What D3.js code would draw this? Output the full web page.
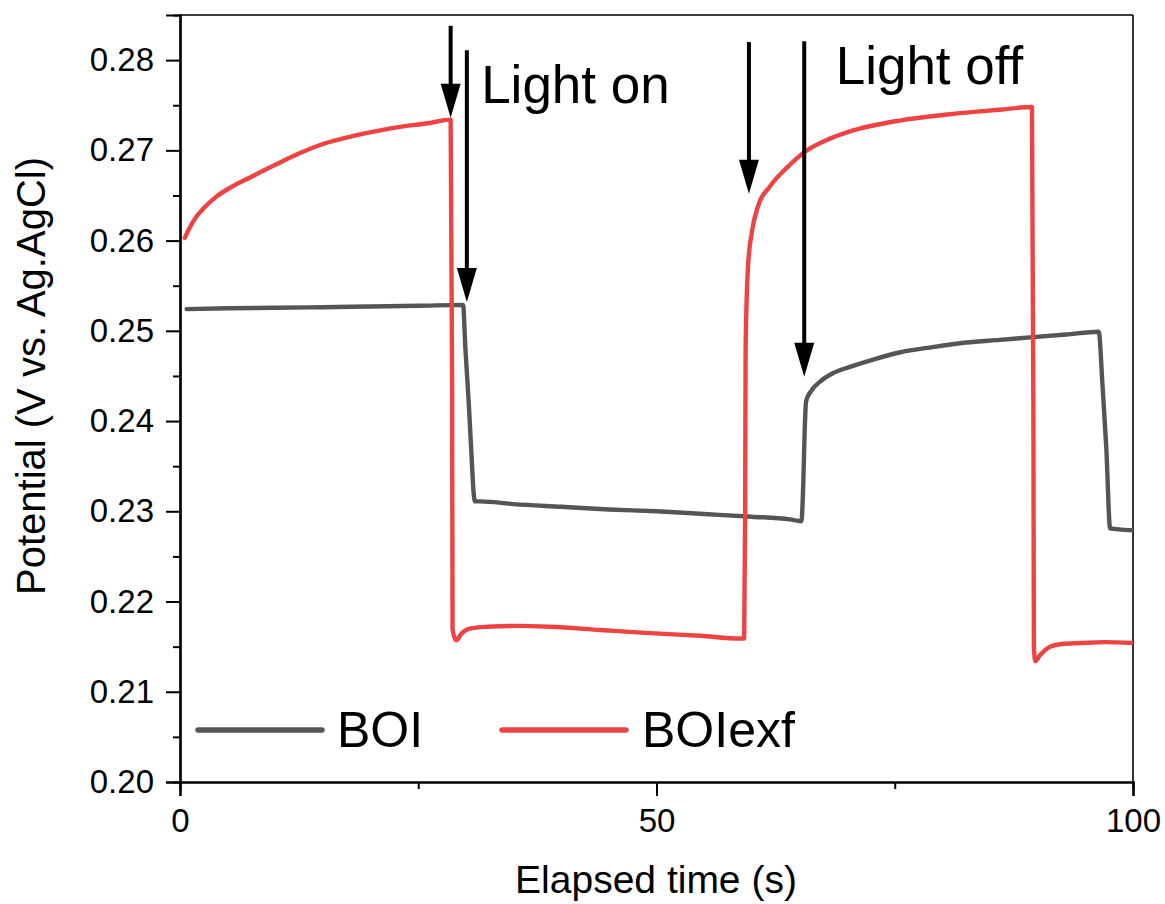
<!DOCTYPE html>
<html>
<head>
<meta charset="utf-8">
<script src="https://cdn.jsdelivr.net/npm/d3@7"></script>
<style>
  body { margin: 0; background: #fff; }
  svg { display: block; font-family: "Liberation Sans", Arial, sans-serif; }
</style>
</head>
<body>
<svg id="chart" width="1165" height="904"></svg>
<script>
// BOI potential trace (time in s, potential in V)
var boiTime = [0.7, 5, 10, 15, 20, 25, 29.7, 29.95, 30.3, 30.6, 30.8, 30.95, 31.5, 35, 40, 45, 50, 55, 60, 64, 65.2,
  65.4, 65.55, 65.7, 66.2, 67.2, 68.5, 70.3, 73, 75.5, 79, 82.5, 86, 89.5, 93, 96.4, 96.8, 97.2, 97.6, 98.5, 100];
var boiPotential = [0.2524, 0.2525, 0.25256, 0.25262, 0.2527, 0.25278, 0.25288, 0.2480, 0.2420, 0.2360, 0.2322, 0.2311, 0.2311,
  0.2308, 0.2305, 0.2302, 0.2300, 0.2297, 0.2294, 0.2291, 0.2289,
  0.2330, 0.2390, 0.2422, 0.2433, 0.2444, 0.2453, 0.2460, 0.2469, 0.2476, 0.2482, 0.2487, 0.2490, 0.2493, 0.2496, 0.2499,
  0.2440, 0.2370, 0.2281, 0.2280, 0.2279];

// BOIexf potential trace
var boiexfTime = [0.5, 1.0, 1.75, 2.5, 3.85, 5.5, 7.35, 10, 12.6, 15, 17.8, 20.5, 23.1, 26, 28.4,
  28.55, 28.6, 28.8, 29.0, 29.5, 30.4, 32.2, 35.3, 38.8, 44.1, 49.3, 54.6, 58.8, 59.2,
  59.3, 59.35, 59.6, 60.0, 60.65, 61.9, 63.8, 65.5, 68.2, 70.3, 75.5, 80.8, 86, 89.4,
  89.55, 89.6, 89.75, 90.2, 91.3, 92.5, 94.5, 97, 100];
var boiexfPotential = [0.2603, 0.2614, 0.2627, 0.2636, 0.2649, 0.2660, 0.2670, 0.2684, 0.2697, 0.2707, 0.2715, 0.2721, 0.2726, 0.2730, 0.2734,
  0.2450, 0.2170, 0.2160, 0.2157, 0.2164, 0.2170, 0.2172, 0.2173, 0.2172, 0.21685, 0.2165, 0.2162, 0.2159, 0.2159,
  0.2300, 0.2479, 0.2571, 0.2609, 0.2638, 0.2660, 0.2682, 0.2698, 0.2713, 0.2721, 0.2733, 0.2740, 0.2745, 0.2748,
  0.2400, 0.2150, 0.2134, 0.2140, 0.2150, 0.2153, 0.2154, 0.2155, 0.2154];

var seriesNames = ["BOI", "BOIexf"];
var seriesColors = ["#555555", "#ef4343"];

var xTicks = [0, 50, 100];
var xMinorTicks = [25, 75];
var yTicks = [0.20, 0.21, 0.22, 0.23, 0.24, 0.25, 0.26, 0.27, 0.28];
var yMinorTicks = [0.205, 0.215, 0.225, 0.235, 0.245, 0.255, 0.265, 0.275];

// annotation arrows: time, start potential, tip potential
var arrowTime = [28.4, 30.1, 59.7, 65.5];
var arrowFrom = [0.2838, 0.2811, 0.2820, 0.2821];
var arrowTo = [0.2736, 0.2532, 0.2652, 0.2449];
var noteText = ["Light on", "Light off"];
var noteTime = [31.6, 68.8];
var notePotential = [0.2752, 0.2774];

var svg = d3.select("#chart");
var plotLeft = 180, plotRight = 1133, plotTop = 15, plotBottom = 782;

var x = d3.scaleLinear().domain([0, 100]).range([plotLeft, plotRight]);
var y = d3.scaleLinear().domain([0.20, 0.285]).range([plotBottom, plotTop]);

svg.append("rect").attr("width", 1165).attr("height", 904).attr("fill", "#fff");

// frame top / right
svg.append("line").attr("x1", plotLeft).attr("x2", plotRight).attr("y1", plotTop).attr("y2", plotTop)
  .attr("stroke", "#000").attr("stroke-width", 1.6);
svg.append("line").attr("x1", plotRight).attr("x2", plotRight).attr("y1", plotTop).attr("y2", plotBottom)
  .attr("stroke", "#000").attr("stroke-width", 1.6);

var xAxis = svg.append("g").attr("transform", "translate(0," + plotBottom + ")")
  .call(d3.axisBottom(x).tickValues(xTicks).tickSize(14).tickPadding(13).tickFormat(d3.format("d")));
var xMinor = svg.append("g").attr("transform", "translate(0," + plotBottom + ")")
  .call(d3.axisBottom(x).tickValues(xMinorTicks).tickSize(7).tickFormat(""));
var yAxis = svg.append("g").attr("transform", "translate(" + plotLeft + ",0)")
  .call(d3.axisLeft(y).tickValues(yTicks).tickSize(14).tickPadding(12).tickFormat(d3.format(".2f")));
var yMinor = svg.append("g").attr("transform", "translate(" + plotLeft + ",0)")
  .call(d3.axisLeft(y).tickValues(yMinorTicks).tickSize(7).tickFormat(""));

[xAxis, xMinor, yAxis, yMinor].forEach(function (g) {
  g.attr("font-size", 33).attr("font-family", "'Liberation Sans', Arial, sans-serif");
  g.select(".domain").attr("stroke", "#000").attr("stroke-width", 2.2);
  g.selectAll(".tick line").attr("stroke", "#000").attr("stroke-width", 2);
  g.selectAll(".tick text").attr("fill", "#000");
});

// axis titles
svg.append("text").attr("x", 656).attr("y", 893).attr("text-anchor", "middle")
  .attr("font-size", 39).text("Elapsed time (s)");
svg.append("text").attr("transform", "translate(45,376) rotate(-90)").attr("text-anchor", "middle")
  .attr("font-size", 40).text("Potential (V vs. Ag.AgCl)");

// traces
var line = d3.line().curve(d3.curveMonotoneX)
  .x(function (d) { return x(d[0]); }).y(function (d) { return y(d[1]); });
var traces = [d3.zip(boiTime, boiPotential), d3.zip(boiexfTime, boiexfPotential)];
svg.append("defs").append("clipPath").attr("id", "plotClip")
  .append("rect").attr("x", plotLeft).attr("y", plotTop)
  .attr("width", plotRight - plotLeft).attr("height", plotBottom - plotTop);
svg.append("g").attr("clip-path", "url(#plotClip)").selectAll("path").data(traces).enter().append("path")
  .attr("d", line)
  .attr("fill", "none")
  .attr("stroke", function (d, i) { return seriesColors[i]; })
  .attr("stroke-width", 4.4)
  .attr("stroke-linejoin", "round")
  .attr("stroke-linecap", "round");

// arrows
var arrows = svg.append("g");
arrowTime.forEach(function (t, i) {
  var ax = x(t), y0 = y(arrowFrom[i]), y1 = y(arrowTo[i]);
  arrows.append("line").attr("x1", ax).attr("x2", ax).attr("y1", y0).attr("y2", y1 - 30)
    .attr("stroke", "#000").attr("stroke-width", 4);
  arrows.append("path")
    .attr("d", "M" + (ax - 10) + "," + (y1 - 34) + "L" + (ax + 10) + "," + (y1 - 34) + "L" + ax + "," + y1 + "Z")
    .attr("fill", "#000");
});

noteText.forEach(function (s, i) {
  svg.append("text").attr("x", x(noteTime[i])).attr("y", y(notePotential[i]))
    .attr("font-size", 53).text(s);
});

// legend
var legendLineX = [198, 502];
var legendTextX = [337, 642];
seriesNames.forEach(function (name, i) {
  svg.append("line").attr("x1", legendLineX[i]).attr("x2", legendLineX[i] + 124)
    .attr("y1", 730).attr("y2", 730)
    .attr("stroke", seriesColors[i]).attr("stroke-width", 5.5).attr("stroke-linecap", "round");
  svg.append("text").attr("x", legendTextX[i]).attr("y", 747).attr("font-size", 50).text(name);
});
</script>
</body>
</html>
